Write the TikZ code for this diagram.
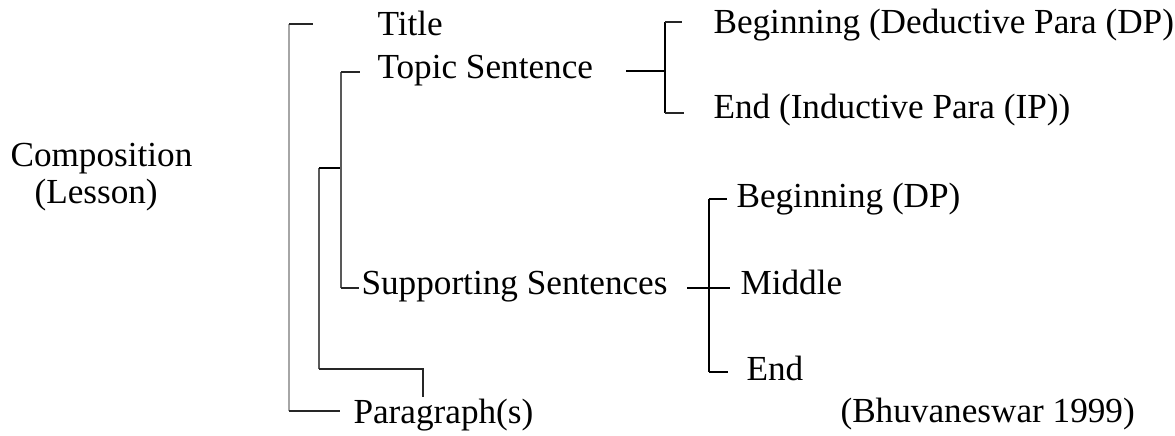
\documentclass[tikz,border=0pt]{standalone}
\usepackage{fontspec}
\setmainfont{Liberation Serif}
\usetikzlibrary{positioning}

\begin{document}
\begin{tikzpicture}[x=0.375pt,y=-0.375pt,
	txt/.style={anchor=base west,inner sep=0pt,font=\fontsize{13.2}{15}\selectfont},
	outerline/.style={draw=black!35,line width=0.4pt},
	spine/.style={draw=black!65,line width=0.5pt},
	tick/.style={draw=black!85,line width=0.45pt},
	brace/.style={draw=black,line width=0.65pt}]
		
		\useasboundingbox (0,0) rectangle (1175,435);
		
		% root
		\node[txt] (comp) at (10,166) {Composition};
		\node[txt] (lesson) at (34,203) {(Lesson)};
		
		% first level
		\node[txt] (title) at (377,35) {Title};
		\node[txt] (topic) at (377,78) {Topic Sentence};
		\node[txt] (supp) at (361,294) {Supporting Sentences};
		\node[txt] (para) at (353,423) {Paragraph(s)};
		
		% second level
		\node[txt] (begded) at (713,33) {Beginning (Deductive Para (DP)};
		\node[txt] (endind) at (713,118) {End (Inductive Para (IP))};
		\node[txt] (begdp) at (736,207) {Beginning (DP)};
		\node[txt] (mid) at (740,294) {Middle};
		\node[txt] (endsup) at (746,380) {End};
		
		\node[txt] (ref) at (840,422) {(Bhuvaneswar 1999)};
		
		% bracket corners
		\coordinate (otop) at (289,24);
		\coordinate (obot) at (289,411);
		\coordinate (mtop) at (319,168);
		\coordinate (mbot) at (319,369);
		\coordinate (stop) at (341,72);
		\coordinate (sbot) at (341,288);
		\coordinate (ttop) at (665,22);
		\coordinate (tbot) at (665,113);
		\coordinate (ttail) at (626,71);
		\coordinate (ptop) at (709,199);
		\coordinate (pbot) at (709,372);
		\coordinate (ptail) at (687,288);
		
		% outer bracket
		\draw[outerline] (otop) -- (obot);
		\draw[tick] (otop) -- ++(24,0);
		\draw[tick] (obot) -- ++(51,0);
		
		% paragraph bracket
		\draw[spine] (mtop) -- (mbot);
		\draw[brace,line width=0.8pt] (mtop) -- (stop |- mtop);
		\draw[tick] (mbot) -- ++(104,0) -- ++(0,28);
		
		% sentence bracket
		\draw[spine] (stop) -- (sbot);
		\draw[tick] (stop) -- ++(19,0);
		\draw[tick] (sbot) -- ++(18,0);
		
		% topic sentence split
		\draw[brace] (ttail) -- (ttop |- ttail);
		\draw[brace] (ttop) -- (tbot);
		\draw[tick] (ttop) -- ++(17,0);
		\draw[tick] (tbot) -- ++(19,0);
		
		% supporting sentences split
		\draw[brace] (ptail) -- ++(43,0);
		\draw[brace] (ptop) -- (pbot);
		\draw[brace,line width=0.9pt] (ptop) -- ++(18,0);
		\draw[brace] (pbot) -- ++(19,0);
		
	\end{tikzpicture}
\end{document}
